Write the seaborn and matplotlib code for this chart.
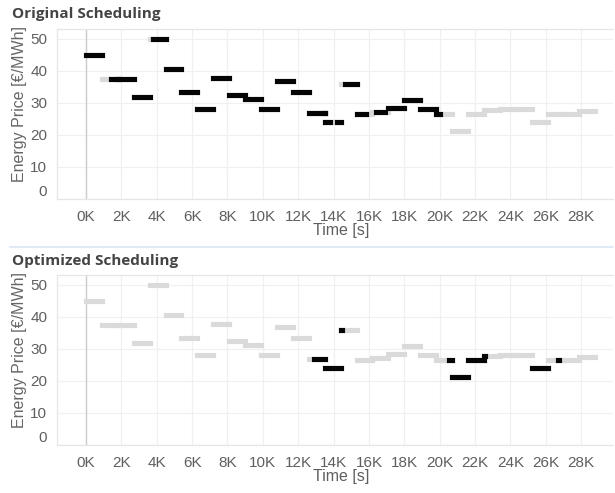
import matplotlib
matplotlib.use("Agg")
import matplotlib.pyplot as plt
from matplotlib.lines import Line2D
import seaborn as sns
import pandas as pd

# ---------------- data ----------------
BLOCK_SECONDS = 900  # 15-minute price blocks

prices = [45.0, 37.4, 37.4, 31.9, 50.0, 40.6, 33.4, 28.2, 37.8, 32.6,
          31.2, 28.0, 36.8, 33.3, 27.0, 24.2, 35.8, 26.7, 27.1, 28.3,
          31.0, 28.0, 26.4, 21.2, 26.6, 27.9, 28.2, 28.2, 24.1, 26.7,
          26.7, 27.5]

# scheduled (black) intervals in seconds
orig_start = [0, 1400, 3800, 4500, 13470, 14180, 14620, 15300, 16400, 17100, 19800]
orig_end = [900, 3600, 4500, 13500, 13790, 14400, 15300, 15850, 16880, 19800, 20000]

opt_start = [12900, 14400, 20500, 22500, 25200, 26100, 26700]
opt_end = [14400, 14480, 22500, 22560, 26100, 26140, 26740]

x_ticks = list(range(0, 28001, 2000))
x_tick_labels = [f"{t // 1000}K" for t in x_ticks]
y_ticks = [0, 10, 20, 30, 40, 50]

panel_titles = ["Original Scheduling", "Optimized Scheduling"]

# ---------------- helpers ----------------
def price_frame():
    rows = []
    for i, p in enumerate(prices):
        rows.append({"seg": i, "t": i * BLOCK_SECONDS, "price": p})
        rows.append({"seg": i, "t": (i + 1) * BLOCK_SECONDS, "price": p})
    return pd.DataFrame(rows)


def schedule_frame(starts, ends):
    rows = []
    seg = 0
    for s, e in zip(starts, ends):
        t = s
        while t < e:
            b = int(t // BLOCK_SECONDS)
            b_end = min((b + 1) * BLOCK_SECONDS, e)
            rows.append({"seg": seg, "t": t, "price": prices[b]})
            rows.append({"seg": seg, "t": b_end, "price": prices[b]})
            seg += 1
            t = b_end
    return pd.DataFrame(rows)


# ---------------- style ----------------
sns.set_theme(style="white")
plt.rcParams["font.family"] = ["Liberation Sans", "DejaVu Sans"]

W, H = 615, 493
fig = plt.figure(figsize=(W / 100, H / 100), dpi=100)

GRAY = "#dadada"
BLACK = "#050505"
LW = 3.7

axes_px = [(57, 29, 613, 199), (57, 275, 613, 445)]
schedules = [(orig_start, orig_end), (opt_start, opt_end)]
title_y = [14, 261]

pf = price_frame()

for k, (l, t, r, b) in enumerate(axes_px):
    ax = fig.add_axes([l / W, 1 - b / H, (r - l) / W, (b - t) / H])
    ax.set_xlim(-1640, 29800)
    ax.set_ylim(0, 53.1)
    ax.set_xticks(x_ticks)
    ax.set_xticklabels(x_tick_labels)
    ax.set_yticks(y_ticks)
    ax.grid(True, color="#f0f0f0", lw=0.9)
    ax.set_axisbelow(True)
    for side in ["top", "left", "bottom"]:
        ax.spines[side].set_color("#e6e6e6")
        ax.spines[side].set_linewidth(0.9)
    ax.spines["right"].set_visible(False)
    ax.axvline(0, color="#cccccc", lw=1.0, zorder=1)

    sns.lineplot(data=pf, x="t", y="price", units="seg", estimator=None,
                 sort=False, color=GRAY, lw=LW, solid_capstyle="projecting",
                 ax=ax, legend=False)
    sf = schedule_frame(*schedules[k])
    sns.lineplot(data=sf, x="t", y="price", units="seg", estimator=None,
                 sort=False, color=BLACK, lw=LW, solid_capstyle="projecting",
                 ax=ax, legend=False)

    ax.tick_params(axis="both", length=0, labelsize=11, labelcolor="#5f5f5f")
    ax.tick_params(axis="x", pad=8)
    ax.tick_params(axis="y", pad=7)
    for lab in ax.get_yticklabels():
        if lab.get_text() == "0":
            lab.set_va("bottom")

    ax.set_xlabel("Time [s]", fontsize=11.5, color="#5f5f5f")
    ax.set_ylabel("Energy Price [€/MWh]", fontsize=11.5, color="#666666")
    ax.xaxis.set_label_coords(0.511, -0.14)
    ax.yaxis.set_label_coords(-0.054, 0.56)

    fig.text(12 / W, 1 - title_y[k] / H, panel_titles[k], fontsize=11,
             fontweight="bold", color="#444444", va="center", ha="left",
             family=["Open Sans", "DejaVu Sans"])

fig.add_artist(Line2D([10 / W, 613 / W], [1 - 247.5 / H, 1 - 247.5 / H],
                      color="#e0eaf6", lw=1.5, transform=fig.transFigure))

fig.savefig("out.png", dpi=100)
